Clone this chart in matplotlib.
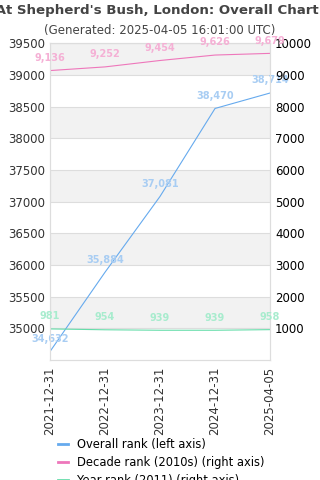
import matplotlib.pyplot as plt
from matplotlib.lines import Line2D

# chart data
dates = ['2021-12-31', '2022-12-31', '2023-12-31', '2024-12-31', '2025-04-05']
overall_rank = [34632, 35884, 37081, 38470, 38714]
decade_rank = [9136, 9252, 9454, 9626, 9679]
year_rank = [981, 954, 939, 939, 958]

blue, blue_lbl = '#66aaee', '#a8cdf3'
pink, pink_lbl = '#ee77bb', '#f5b0d5'
green, green_lbl = '#66ddaa', '#a8ecce'

fig = plt.figure(figsize=(3.2, 4.8), dpi=100)
ax = fig.add_axes([0.156, 0.25, 0.688, 0.66])
ax2 = ax.twinx()

x = list(range(len(dates)))

# alternating bands
for lo in range(34500, 39500, 1000):
    ax.axhspan(lo + 500, lo + 1000, color='#f2f2f2', zorder=0, lw=0)
for v in range(35000, 39501, 500):
    ax.axhline(v, color='#dddddd', lw=0.8, zorder=0.5)

ax.plot(x, overall_rank, color=blue, lw=0.8, zorder=3)
ax2.plot(x, decade_rank, color=pink, lw=0.8)
ax2.plot(x, year_rank, color=green, lw=0.8)

for i, v in enumerate(overall_rank):
    ax.annotate(f'{v:,}', (i, v), xytext=(0, 7), textcoords='offset points',
                ha='center', fontsize=7, color=blue_lbl, fontweight='bold')
for i, v in enumerate(decade_rank):
    ax2.annotate(f'{v:,}', (i, v), xytext=(0, 7), textcoords='offset points',
                 ha='center', fontsize=7, color=pink_lbl, fontweight='bold')
for i, v in enumerate(year_rank):
    ax2.annotate(f'{v:,}', (i, v), xytext=(0, 7), textcoords='offset points',
                 ha='center', fontsize=7, color=green_lbl, fontweight='bold')

ax.set_xlim(0, len(dates) - 1)
ax.set_ylim(34500, 39500)
ax2.set_ylim(0, 10000)
ax.set_yticks(range(35000, 39501, 500))
ax2.set_yticks(range(1000, 10001, 1000))
ax.set_xticks(x)
ax.set_xticklabels(dates, rotation=90)

for a in (ax, ax2):
    a.tick_params(length=0, labelsize=8.5, colors='#333333')
    for s in a.spines.values():
        s.set_color('#dddddd')
ax.tick_params(axis='x', pad=5)
ax2.tick_params(labelcolor='black')

fig.text(0.5, 0.978, "Live At Shepherd's Bush, London: Overall Chart Rank",
         ha='center', va='center', fontsize=9.6, fontweight='bold', color='#444444')
fig.text(0.5, 0.937, '(Generated: 2025-04-05 16:01:00 UTC)',
         ha='center', va='center', fontsize=8.5, color='#444444')

handles = [Line2D([], [], color=blue, lw=2),
           Line2D([], [], color=pink, lw=2),
           Line2D([], [], color=green, lw=2)]
labels = ['Overall rank (left axis)', 'Decade rank (2010s) (right axis)',
          'Year rank (2011) (right axis)']
fig.legend(handles, labels, loc='upper left', bbox_to_anchor=(0.15, 0.11),
           frameon=False, fontsize=8.3, handlelength=0.8, labelspacing=0.45)

fig.savefig('out.png', dpi=100)
